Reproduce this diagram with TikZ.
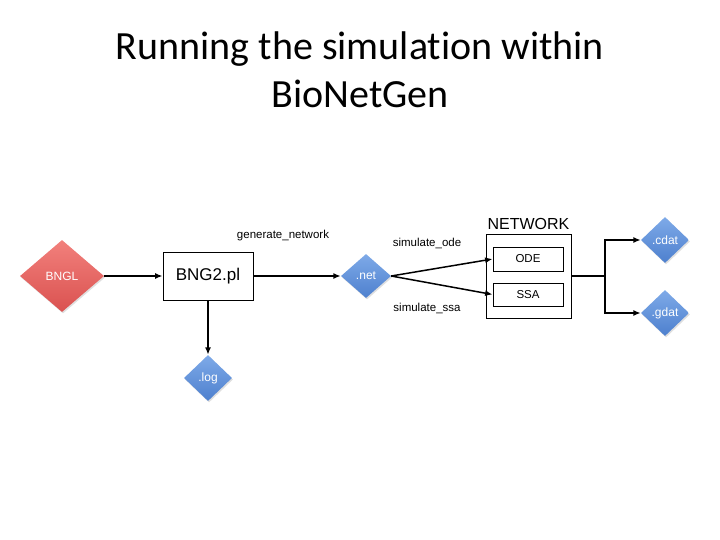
\documentclass[tikz,border=0pt]{standalone}
\usepackage{fontspec}
\setmainfont{Liberation Sans}
\newfontfamily\titlefont[Ligatures=NoCommon]{Carlito}
\usetikzlibrary{arrows.meta,shapes.geometric,shadows,calc}
\definecolor{bngltop}{RGB}{242,128,124}
\definecolor{bnglbot}{RGB}{218,82,80}
\definecolor{filetop}{RGB}{126,170,232}
\definecolor{filebot}{RGB}{78,128,206}
\tikzset{
  >={Latex[length=7.5pt,width=6pt]},
  line cap=round,
  flow/.style={->, line width=1.5pt},
  wire/.style={line width=1.5pt},
  prog/.style={draw, line width=0.8pt, inner sep=0pt, align=center},
  filenode/.style={diamond, inner sep=0pt, text=white, draw=none,
    font=\fontsize{12}{14}\selectfont,
    drop shadow={opacity=0.25, shadow xshift=1pt, shadow yshift=-1.5pt}},
  bluefile/.style={filenode, top color=filetop, bottom color=filebot,
    minimum width=48pt, minimum height=46pt},
  redfile/.style={filenode, top color=bngltop, bottom color=bnglbot},
  cmdlabel/.style={font=\fontsize{11.5}{13}\selectfont}
}
\begin{document}
\begin{tikzpicture}[x=1pt,y=-1pt]
  \useasboundingbox (0,0) rectangle (720,540);

  % title
  \node[font=\titlefont\fontsize{40}{48}\selectfont, align=center] (title) at (360,70)
    {Running the simulation within\\BioNetGen};

  % input, program, outputs
  \node[redfile, minimum width=84pt, minimum height=72pt] (bngl) at (62,276) {BNGL};
  \node[prog, minimum width=90pt, minimum height=48pt,
        font=\fontsize{17}{20}\selectfont] (bng) at (208,276) {BNG2.pl};
  \node[bluefile, minimum width=50pt, minimum height=44pt] (net) at (366,276) {.net};
  \node[bluefile] (log) at (208,378) {.log};

  % network simulators
  \node[prog, minimum width=85pt, minimum height=84pt] (network) at (528.5,276) {};
  \node[font=\fontsize{16}{18}\selectfont, above=0pt] (nettitle) at (network.north) {NETWORK};
  \node[prog, minimum width=70pt, minimum height=24pt,
        font=\fontsize{11.5}{13}\selectfont] (ode) at (528,259) {ODE};
  \node[prog, minimum width=70pt, minimum height=23pt,
        font=\fontsize{11.5}{13}\selectfont] (ssa) at (528,294.5) {SSA};

  \node[bluefile] (cdat) at (665,240) {.cdat};
  \node[bluefile] (gdat) at (665,313) {.gdat};
  \coordinate (split) at (605,276);

  % connectors
  \draw[flow] (bngl.east) -- (bng.west);
  \draw[flow] (bng.east) -- (net.west);
  \draw[flow] (bng.south) -- (log.north);
  \draw[flow] (net.east) -- (ode.west);
  \draw[flow] (net.east) -- (ssa.west);
  \draw[wire] (network.east) -- (split);
  \draw[flow] (split) |- (cdat.west);
  \draw[flow] (split) |- (gdat.west);

  % command labels
  \node[cmdlabel] (gen) at (283,236) {generate\_network};
  \node[cmdlabel] (simode) at (427,243) {simulate\_ode};
  \node[cmdlabel] (simssa) at (427,308) {simulate\_ssa};
\end{tikzpicture}
\end{document}
